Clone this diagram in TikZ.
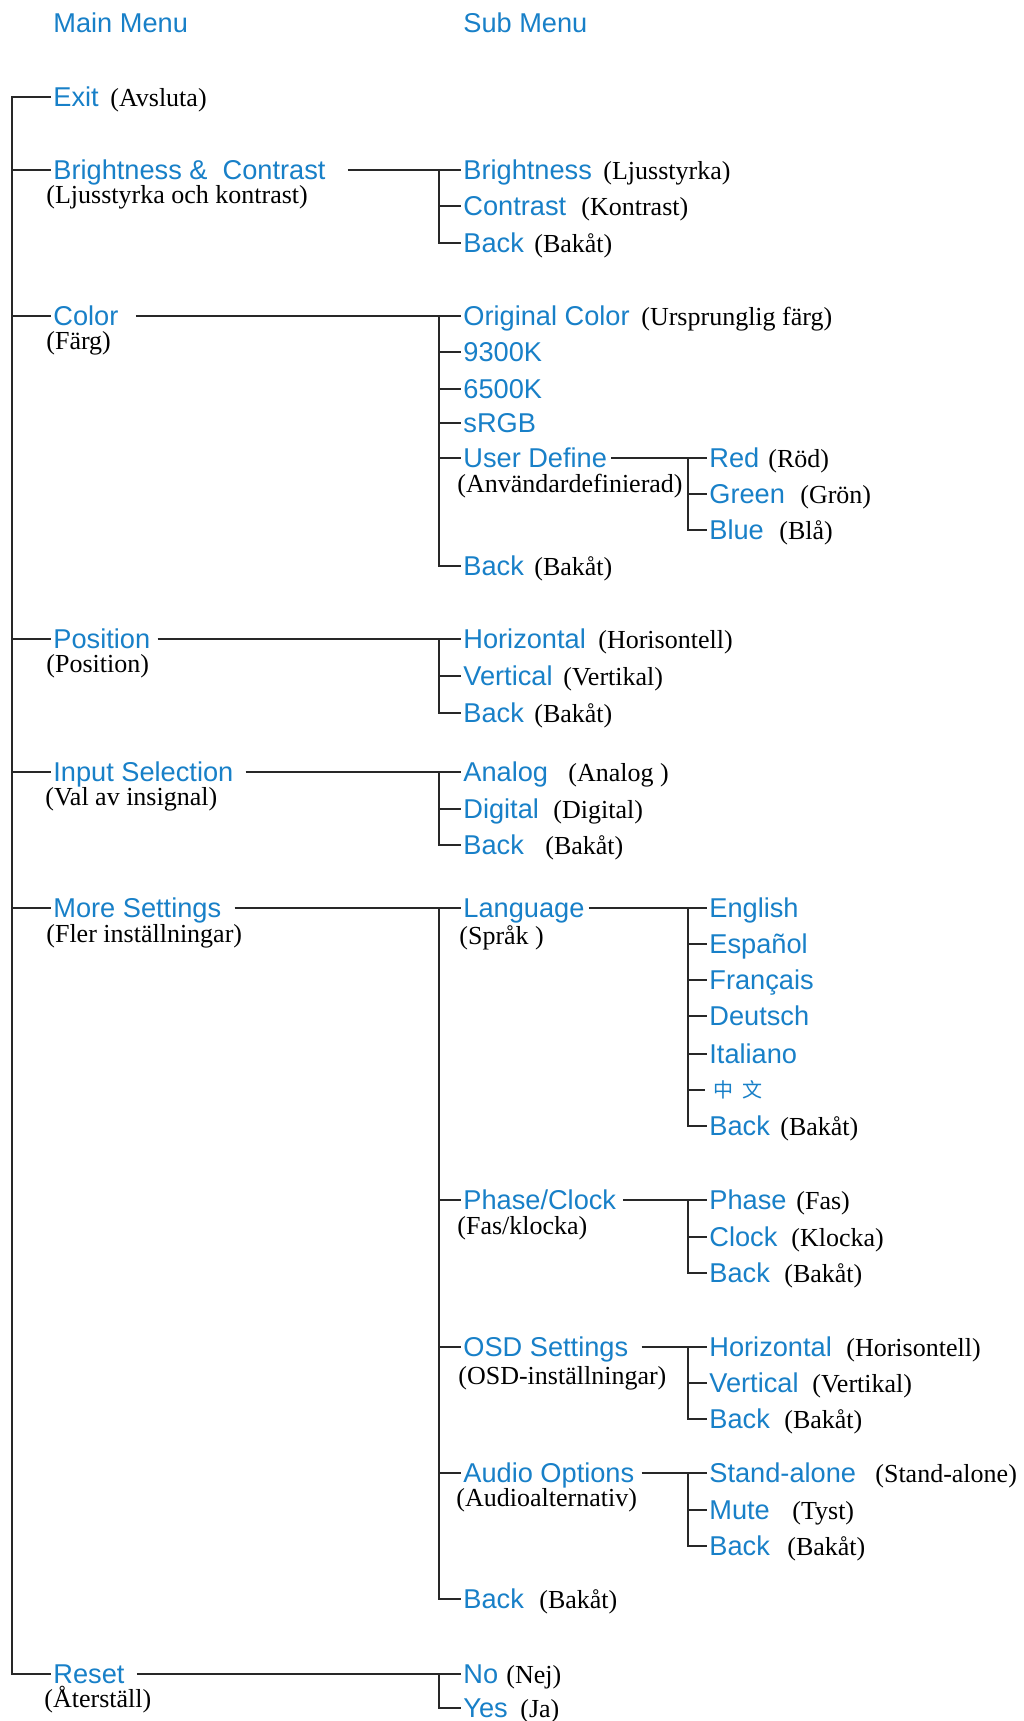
\documentclass[tikz,border=0pt]{standalone}
\usepackage{fontspec}
\setmainfont{Liberation Serif}
\newfontfamily\bluefont{Liberation Sans}
\newfontfamily\cjkfont{Noto Sans CJK SC}
\usetikzlibrary{calc}
\definecolor{menublue}{RGB}{24,128,200}
\definecolor{linegray}{RGB}{40,40,40}
\begin{document}
\begin{tikzpicture}[x=0.5pt,y=-0.5pt,
  item/.style={font=\bluefont\fontsize{13.6}{16}\selectfont, text=menublue, anchor=west,
    inner xsep=1pt, inner ysep=0pt, text height=9.74pt, text depth=0pt},
  note/.style={font=\fontsize{13}{15}\selectfont, text=black, anchor=base west, inner sep=0pt},
  conn/.style={draw=linegray, line width=1.15pt},
]
\fill[white] (0,0) rectangle (1024,1721);
\useasboundingbox (0,0) rectangle (1024,1721);

\coordinate (mt) at (12,0);
\coordinate (st) at (439,0);
\coordinate (sst) at (688,0);

% headings
\node[item] (h1) at (51,23) {Main Menu};
\node[item] (h2) at (461,23) {Sub Menu};

% main items
\node[item] (exit) at (51,97) {Exit};
\node[note] (exitn) at (110,106.7) {(Avsluta)};
\node[item] (bc) at (51,170) {Brightness \&\ \ Contrast};
\node[note] (bcn) at (46,203.5) {(Ljusstyrka och kontrast)};
\node[item] (color) at (51,316) {Color};
\node[note] (colorn) at (46,349) {(Färg)};
\node[item] (pos) at (51,639) {Position};
\node[note] (posn) at (46,672) {(Position)};
\node[item] (input) at (51,772) {Input Selection};
\node[note] (inputn) at (45,805) {(Val av insignal)};
\node[item] (more) at (51,908) {More Settings};
\node[note] (moren) at (46,942) {(Fler inställningar)};
\node[item] (reset) at (51,1674) {Reset};
\node[note] (resetn) at (44,1707) {(Återställ)};

% Brightness & Contrast submenu
\node[item] (bright) at (461,170) {Brightness};
\node[note] (brightn) at (603,179.7) {(Ljusstyrka)};
\node[item] (contr) at (461,206) {Contrast};
\node[note] (contrn) at (581,215.7) {(Kontrast)};
\node[item] (bcback) at (461,243) {Back};
\node[note] (bcbackn) at (534,252.7) {(Bakåt)};

% Color submenu
\node[item] (orig) at (461,316) {Original Color};
\node[note] (orign) at (641,325.7) {(Ursprunglig färg)};
\node[item] (k93) at (461,352) {9300K};
\node[item] (k65) at (461,389) {6500K};
\node[item] (srgb) at (461,423) {sRGB};
\node[item] (user) at (461,458) {User Define};
\node[note] (usern) at (457,492) {(Användardefinierad)};
\node[item] (cback) at (461,566) {Back};
\node[note] (cbackn) at (534,575.7) {(Bakåt)};
\node[item] (red) at (707,458) {Red};
\node[note] (redn) at (768,467.7) {(Röd)};
\node[item] (green) at (707,494) {Green};
\node[note] (greenn) at (800,503.7) {(Grön)};
\node[item] (blue) at (707,530) {Blue};
\node[note] (bluen) at (779,539.7) {(Blå)};

% Position submenu
\node[item] (phor) at (461,639) {Horizontal};
\node[note] (phorn) at (598,648.7) {(Horisontell)};
\node[item] (pver) at (461,676) {Vertical};
\node[note] (pvern) at (563,685.7) {(Vertikal)};
\node[item] (pback) at (461,713) {Back};
\node[note] (pbackn) at (534,722.7) {(Bakåt)};

% Input submenu
\node[item] (ana) at (461,772) {Analog};
\node[note] (anan) at (568,781.7) {(Analog )};
\node[item] (dig) at (461,809) {Digital};
\node[note] (dign) at (553,818.7) {(Digital)};
\node[item] (iback) at (461,845) {Back};
\node[note] (ibackn) at (545,854.7) {(Bakåt)};

% More settings submenu
\node[item] (lang) at (461,908) {Language};
\node[note] (langn) at (459,944) {(Språk )};
\node[item] (phase) at (461,1200) {Phase/Clock};
\node[note] (phasen) at (457,1234) {(Fas/klocka)};
\node[item] (osd) at (461,1347) {OSD Settings};
\node[note] (osdn) at (458,1384) {(OSD-inställningar)};
\node[item] (audio) at (461,1473) {Audio Options};
\node[note] (audion) at (456,1506) {(Audioalternativ)};
\node[item] (mback) at (461,1599) {Back};
\node[note] (mbackn) at (539,1608.7) {(Bakåt)};

% Language
\node[item] (eng) at (707,908) {English};
\node[item] (esp) at (707,944) {Español};
\node[item] (fra) at (707,980) {Français};
\node[item] (deu) at (707,1016) {Deutsch};
\node[item] (ita) at (707,1054) {Italiano};
\node[item, font=\cjkfont\fontsize{10}{12}\selectfont, text height=7.6pt, inner xsep=3pt] (zh) at (707,1090) {中\ \ 文};
\node[item] (lback) at (707,1126) {Back};
\node[note] (lbackn) at (780,1135.7) {(Bakåt)};

% Phase/Clock
\node[item] (ph) at (707,1200) {Phase};
\node[note] (phn) at (796,1209.7) {(Fas)};
\node[item] (clk) at (707,1237) {Clock};
\node[note] (clkn) at (791,1246.7) {(Klocka)};
\node[item] (phback) at (707,1273) {Back};
\node[note] (phbackn) at (784,1282.7) {(Bakåt)};

% OSD
\node[item] (ohor) at (707,1347) {Horizontal};
\node[note] (ohorn) at (846,1356.7) {(Horisontell)};
\node[item] (over) at (707,1383) {Vertical};
\node[note] (overn) at (812,1392.7) {(Vertikal)};
\node[item] (oback) at (707,1419) {Back};
\node[note] (obackn) at (784,1428.7) {(Bakåt)};

% Audio
\node[item] (stand) at (707,1473) {Stand-alone};
\node[note] (standn) at (875,1482.7) {(Stand-alone)};
\node[item] (mute) at (707,1510) {Mute};
\node[note] (muten) at (792,1519.7) {(Tyst)};
\node[item] (aback) at (707,1546) {Back};
\node[note] (abackn) at (787,1555.7) {(Bakåt)};

% Reset
\node[item] (no) at (461,1674) {No};
\node[note] (non) at (506,1683.7) {(Nej)};
\node[item] (yes) at (461,1708) {Yes};
\node[note] (yesn) at (520,1717.7) {(Ja)};

% ---------- connectors ----------
% main trunk
\draw[conn] (exit.west) -- (mt |- exit.west) -- (mt |- reset.west) -- (reset.west);
\foreach \n in {bc,color,pos,input,more} \draw[conn] (mt |- \n.west) -- (\n.west);

% B&C
\draw[conn] ($(bc.east)+(20,0)$) -- (bright.west);
\draw[conn] (st |- bright.west) -- (st |- bcback.west) -- (bcback.west);
\draw[conn] (st |- contr.west) -- (contr.west);

% Color
\draw[conn] ($(color.east)+(15,0)$) -- (orig.west);
\draw[conn] (st |- orig.west) -- (st |- cback.west) -- (cback.west);
\foreach \n in {k93,k65,srgb,user} \draw[conn] (st |- \n.west) -- (\n.west);
\draw[conn] ($(user.east)+(2,0)$) -- (red.west);
\draw[conn] (sst |- red.west) -- (sst |- blue.west) -- (blue.west);
\draw[conn] (sst |- green.west) -- (green.west);

% Position
\draw[conn] ($(pos.east)+(5,0)$) -- (phor.west);
\draw[conn] (st |- phor.west) -- (st |- pback.west) -- (pback.west);
\draw[conn] (st |- pver.west) -- (pver.west);

% Input
\draw[conn] ($(input.east)+(10,0)$) -- (ana.west);
\draw[conn] (st |- ana.west) -- (st |- iback.west) -- (iback.west);
\draw[conn] (st |- dig.west) -- (dig.west);

% More settings
\draw[conn] ($(more.east)+(11,0)$) -- (lang.west);
\draw[conn] (st |- lang.west) -- (st |- mback.west) -- (mback.west);
\foreach \n in {phase,osd,audio} \draw[conn] (st |- \n.west) -- (\n.west);

% Language
\draw[conn] ($(lang.east)+(2,0)$) -- (eng.west);
\draw[conn] (sst |- eng.west) -- (sst |- lback.west) -- (lback.west);
\foreach \n in {esp,fra,deu,ita} \draw[conn] (sst |- \n.west) -- (\n.west);
\draw[conn] (sst |- zh.west) -- ($(zh.west)+(-2,0)$);

% Phase/Clock
\draw[conn] ($(phase.east)+(5,0)$) -- (ph.west);
\draw[conn] (sst |- ph.west) -- (sst |- phback.west) -- (phback.west);
\draw[conn] (sst |- clk.west) -- (clk.west);

% OSD
\draw[conn] ($(osd.east)+(11,0)$) -- (ohor.west);
\draw[conn] (sst |- ohor.west) -- (sst |- oback.west) -- (oback.west);
\draw[conn] (sst |- over.west) -- (over.west);

% Audio
\draw[conn] ($(audio.east)+(5,0)$) -- (stand.west);
\draw[conn] (sst |- stand.west) -- (sst |- aback.west) -- (aback.west);
\draw[conn] (sst |- mute.west) -- (mute.west);

% Reset
\draw[conn] ($(reset.east)+(10,0)$) -- (no.west);
\draw[conn] (st |- no.west) -- (st |- yes.west) -- (yes.west);
\end{tikzpicture}
\end{document}
